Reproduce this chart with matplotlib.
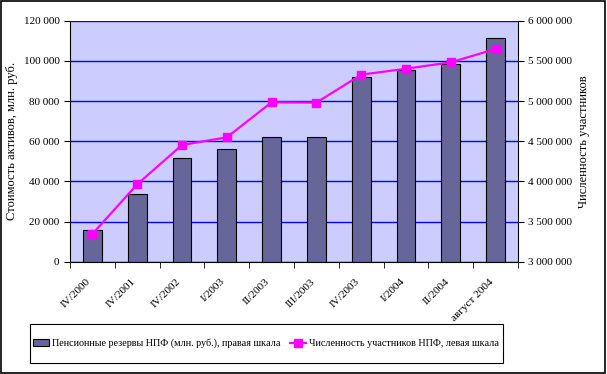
import matplotlib.pyplot as plt
from matplotlib.patches import Rectangle
from matplotlib.ticker import FuncFormatter
import numpy as np

plt.rcParams["font.family"] = ["Liberation Serif", "DejaVu Serif"]
plt.rcParams["font.size"] = 8

periods = ["IV/2000", "IV/2001", "IV/2002", "I/2003", "II/2003",
           "III/2003", "IV/2003", "I/2004", "II/2004", "август 2004"]
reserves = [15800, 33500, 51500, 56000, 62000, 62000, 91800, 95300, 98300, 111200]
members = [3345000, 3963000, 4453000, 4548000, 4984000,
           4980000, 5328000, 5402000, 5482000, 5648000]

bar_label = "Пенсионные резервы НПФ (млн. руб.), правая шкала"
line_label = "Численность участников НПФ, левая шкала"


def spaced(v, pos=None):
    return f"{int(v):,}".replace(",", " ")


fig = plt.figure(figsize=(6.07, 3.74), dpi=100)
ax = fig.add_axes([70 / 607, 1 - 261.7 / 374, 448 / 607, 241 / 374])
ax2 = ax.twinx()

x = np.arange(len(periods))
bars = ax.bar(x, reserves, width=0.42, color="#666699", edgecolor="black",
              linewidth=0.8, zorder=2)
line, = ax2.plot(x, members, color="#FF00FF", marker="s", markersize=6,
                 linewidth=1.6)

ax.set_facecolor("#CCCCFF")
ax.set_xlim(-0.5, len(periods) - 0.5)
ax.set_ylim(0, 120000)
ax.set_yticks(np.arange(0, 120001, 20000))
ax.yaxis.set_major_formatter(FuncFormatter(spaced))
ax.grid(axis="y", color="#0000FF", linewidth=1)
ax.set_axisbelow(True)

ax2.set_ylim(3000000, 6000000)
ax2.set_yticks(np.arange(3000000, 6000001, 500000))
ax2.yaxis.set_major_formatter(FuncFormatter(spaced))

# category ticks sit on the boundaries, labels at centres
ax.set_xticks(x)
ax.set_xticks(np.arange(-0.5, len(periods), 1), minor=True)
ax.tick_params(axis="x", which="major", length=0, pad=11)
ax.tick_params(axis="x", which="minor", length=4, direction="out")
ax.set_xticklabels(periods, rotation=45, ha="right", fontsize=8.1)

ax.tick_params(axis="y", length=4, direction="out")
ax2.tick_params(axis="y", length=4, direction="out")

for a in (ax, ax2):
    a.spines["top"].set_visible(False)
ax.spines["right"].set_visible(False)
ax2.spines["left"].set_visible(False)
ax2.spines["bottom"].set_visible(False)

ax.set_ylabel("Стоимость активов, млн. руб.", fontsize=9)
ax2.set_ylabel("Численность участников", fontsize=9, labelpad=4)

# legend box drawn by hand so its size matches the original
fig.add_artist(Rectangle((30 / 607, 1 - 363 / 374), 473 / 607, 39 / 374,
                         transform=fig.transFigure, fill=False,
                         edgecolor="black", linewidth=0.8))
fig.legend([bars, line], [bar_label, line_label], ncol=2,
           loc="center", bbox_to_anchor=(266 / 607, 1 - 343.5 / 374),
           frameon=False, borderpad=0.2, handlelength=1.6,
           handletextpad=0.3, columnspacing=0.9, fontsize=7.3)

fig.add_artist(Rectangle((0.002, 0.003), 0.995, 0.994, transform=fig.transFigure,
                         fill=False, edgecolor="black", linewidth=1.2))

fig.savefig("out.png", dpi=100)
